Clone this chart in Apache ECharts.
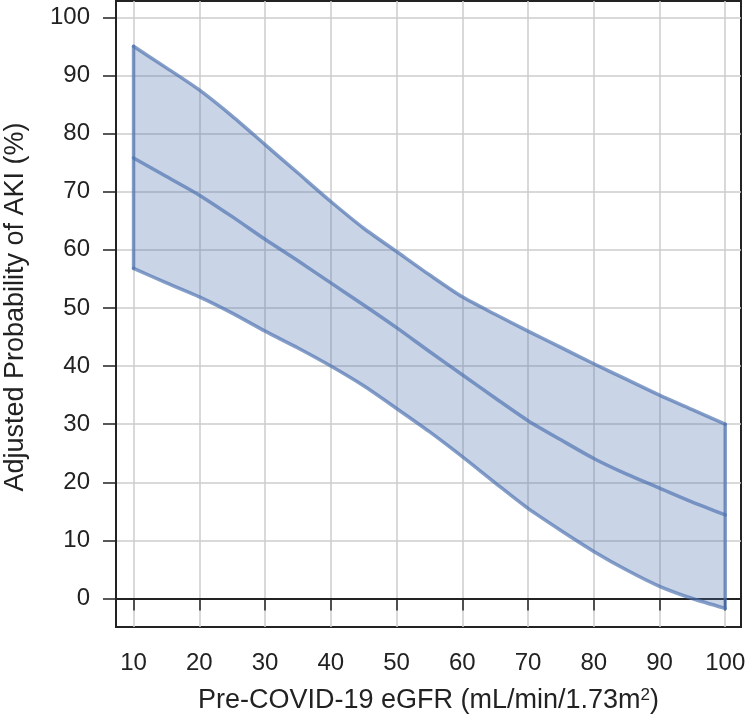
<!DOCTYPE html>
<html>
<head>
<meta charset="utf-8">
<script src="https://cdn.jsdelivr.net/npm/echarts@6/dist/echarts.min.js"></script>
<style>
  html, body { margin: 0; padding: 0; background: #fff; }
  #chart { width: 748px; height: 727px; }
</style>
</head>
<body>
<div id="chart"></div>
<script>
// eGFR grid (x) and adjusted probability of AKI (%)
const egfr = [10, 15, 20, 25, 30, 35, 40, 45, 50, 55, 60, 65, 70, 75, 80, 85, 90, 95, 100]
const upperCI = [95.0, 91.3, 87.5, 83.0, 78.1, 73.2, 68.3, 63.7, 59.7, 55.7, 51.9, 48.9, 46.0, 43.2, 40.4, 37.7, 35.0, 32.5, 30.0]
const meanProb = [75.8, 72.6, 69.4, 65.7, 61.8, 58.1, 54.3, 50.5, 46.6, 42.5, 38.5, 34.5, 30.6, 27.3, 24.1, 21.4, 19.0, 16.6, 14.4]
const lowerCI = [56.8, 54.3, 51.9, 49.1, 46.0, 43.1, 40.0, 36.6, 32.7, 28.7, 24.4, 19.9, 15.5, 11.7, 8.1, 4.9, 2.1, 0.0, -1.7]
const xTicks = [10, 20, 30, 40, 50, 60, 70, 80, 90, 100]
const yTicks = [0, 10, 20, 30, 40, 50, 60, 70, 80, 90, 100]

const FONT = 'Liberation Sans'
const TXT = '#222'
const EDGE = 'rgba(76,114,176,0.68)'
const BAND = 'rgba(76,114,176,0.3)'

const chart = echarts.init(document.getElementById('chart'))

function pairs(ys) {
  return egfr.map((x, i) => [x, ys[i]])
}

function edgeLine(data, smooth) {
  return {
    type: 'line',
    data: data,
    showSymbol: false,
    smooth: smooth,
    lineStyle: { color: EDGE, width: 3.5, cap: 'round', join: 'round' },
    silent: true,
    z: 3
  }
}

const last = egfr.length - 1

const option = {
  animation: false,
  grid: {
    left: 116,
    right: 7,
    top: 1,
    bottom: 100,
    outerBoundsMode: 'none',
    show: true,
    borderColor: '#222',
    borderWidth: 2,
    backgroundColor: 'transparent'
  },
  xAxis: {
    type: 'value',
    min: 7.33,
    max: 102.4,
    name: 'Pre-COVID-19 eGFR (mL/min/1.73m{sup|2})',
    nameLocation: 'middle',
    nameGap: 60,
    nameTextStyle: {
      fontFamily: FONT,
      fontSize: 27,
      color: TXT,
      rich: {
        sup: { fontFamily: FONT, fontSize: 17, color: TXT, padding: [0, 0, 11, 0] }
      }
    },
    axisLine: { show: true, lineStyle: { color: '#222', width: 2 } },
    axisTick: {
      show: true,
      length: 12,
      customValues: xTicks,
      lineStyle: { color: '#222', width: 1.5 }
    },
    axisLabel: {
      customValues: xTicks,
      margin: 24,
      fontFamily: FONT,
      fontSize: 24,
      color: TXT
    },
    splitLine: {
      show: true,
      lineStyle: { color: '#cccccc', width: 1.5 }
    }
  },
  yAxis: {
    type: 'value',
    min: -4.9,
    max: 102.8,
    name: 'Adjusted Probability of AKI (%)',
    nameLocation: 'middle',
    nameRotate: 90,
    nameGap: 87,
    nameTextStyle: {
      fontFamily: FONT,
      fontSize: 27,
      color: TXT,
      padding: [0, 0, 0, 14]
    },
    axisLine: { show: true, lineStyle: { color: '#222', width: 2 } },
    axisTick: {
      show: true,
      length: 13,
      customValues: yTicks,
      lineStyle: { color: '#222', width: 1.5 }
    },
    axisLabel: {
      customValues: yTicks,
      margin: 26,
      fontFamily: FONT,
      fontSize: 24,
      color: TXT
    },
    splitLine: {
      show: true,
      lineStyle: { color: '#cccccc', width: 1.5 }
    }
  },
  series: [
    {
      // confidence band fill: upper forward, lower back
      type: 'custom',
      data: [[egfr[0], meanProb[0]]],
      silent: true,
      z: 2,
      renderItem: function (params, api) {
        const pts = []
        for (let i = 0; i < egfr.length; i++) {
          pts.push(api.coord([egfr[i], upperCI[i]]))
        }
        for (let i = last; i >= 0; i--) {
          pts.push(api.coord([egfr[i], lowerCI[i]]))
        }
        return {
          type: 'polygon',
          shape: { points: pts, smooth: 0 },
          style: { fill: BAND }
        }
      }
    },
    edgeLine(pairs(upperCI), 0.25),
    edgeLine(pairs(lowerCI), 0.25),
    edgeLine([[egfr[0], lowerCI[0]], [egfr[0], upperCI[0]]], false),
    edgeLine([[egfr[last], lowerCI[last]], [egfr[last], upperCI[last]]], false),
    edgeLine(pairs(meanProb), 0.25)
  ]
}

chart.setOption(option)
</script>
</body>
</html>
